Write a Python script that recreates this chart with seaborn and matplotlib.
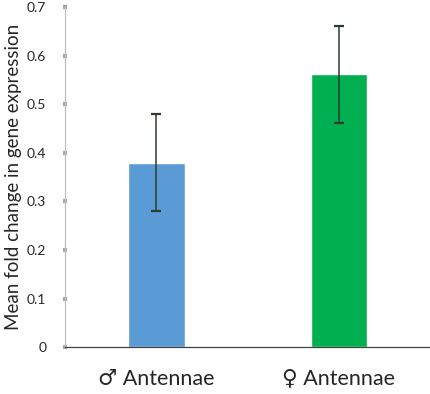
import matplotlib
matplotlib.use("Agg")
import matplotlib.pyplot as plt
import seaborn as sns

# data
groups = ["\u2642 Antennae", "\u2640 Antennae"]
mean_fold = [0.38, 0.562]
err = [0.1, 0.1]
bar_colors = ["#5B9BD5", "#00B050"]
y_ticks = [0, 0.1, 0.2, 0.3, 0.4, 0.5, 0.6, 0.7]
y_tick_labels = ["0", "0.1", "0.2", "0.3", "0.4", "0.5", "0.6", "0.7"]

sns.set_style("white")
plt.rcParams["font.family"] = ["Lato", "DejaVu Sans"]

fig = plt.figure(figsize=(4.31, 3.94), dpi=100)
ax = fig.add_axes([0.151, 0.119, 0.847, 0.863])

sns.barplot(x=groups, y=mean_fold, hue=groups, palette=bar_colors,
            width=0.31, legend=False, ax=ax, saturation=1)
ax.errorbar(range(len(groups)), mean_fold, yerr=err, fmt="none",
            ecolor="#2e3b2e", elinewidth=1.1, capsize=3.3, capthick=1.6)

ax.set_xlim(-0.5, 1.5)
ax.set_ylim(0, 0.7)
ax.set_yticks(y_ticks)
ax.set_yticklabels(y_tick_labels, fontsize=10)
ax.set_ylabel("Mean fold change in gene expression", fontsize=13.5)
ax.yaxis.set_label_coords(-0.118, 0.5)
ax.tick_params(axis="y", left=True, direction="inout", length=3, width=3,
               color="#a6a6a6", pad=12)
ax.tick_params(axis="x", bottom=False, labelsize=15.5, pad=12)

for s in ["top", "right"]:
    ax.spines[s].set_visible(False)
ax.spines["left"].set_color("#bfbfbf")
ax.spines["left"].set_linewidth(0.9)
ax.spines["bottom"].set_color("#404040")
ax.spines["bottom"].set_linewidth(0.9)

fig.savefig("out.png", dpi=100)
